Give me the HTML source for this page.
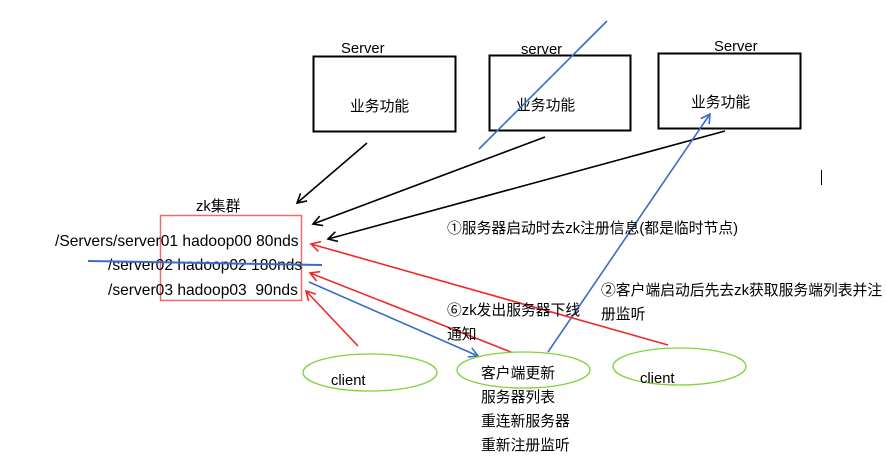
<!DOCTYPE html>
<html><head><meta charset="utf-8"><style>
html,body{margin:0;padding:0;background:#fff;}
svg{display:block;}
text{font-family:"Liberation Sans","Noto Sans CJK SC",sans-serif;font-size:14.8px;fill:#000;white-space:pre;}
</style></head><body>
<svg width="886" height="461" viewBox="0 0 886 461" xmlns="http://www.w3.org/2000/svg">
<defs>
<marker id="ak" markerWidth="12" markerHeight="12" refX="10" refY="6" orient="auto" markerUnits="userSpaceOnUse"><path d="M1,1 L10,6 L1,11" fill="none" stroke="#000" stroke-width="1.6"/></marker>
<marker id="ar" markerWidth="12" markerHeight="12" refX="10" refY="6" orient="auto" markerUnits="userSpaceOnUse"><path d="M1,1 L10,6 L1,11" fill="none" stroke="#f02828" stroke-width="1.6"/></marker>
<marker id="ab" markerWidth="12" markerHeight="12" refX="10" refY="6" orient="auto" markerUnits="userSpaceOnUse"><path d="M1,1 L10,6 L1,11" fill="none" stroke="#3a6cc6" stroke-width="1.6"/></marker>
</defs>
<rect x="313.5" y="56.5" width="142" height="75" fill="none" stroke="#000" stroke-width="2"/>
<rect x="489.5" y="55.5" width="141" height="75" fill="none" stroke="#000" stroke-width="2"/>
<rect x="658.5" y="53.5" width="142" height="75" fill="none" stroke="#000" stroke-width="2"/>
<text x="341" y="53">Server</text>
<text x="521" y="54">server</text>
<text x="714" y="51">Server</text>
<text x="350" y="111">业务功能</text>
<text x="516" y="110">业务功能</text>
<text x="691" y="107">业务功能</text>
<line x1="367" y1="143" x2="297" y2="203" stroke="#000" stroke-width="1.6" marker-end="url(#ak)"/>
<line x1="545" y1="137" x2="313" y2="224" stroke="#000" stroke-width="1.6" marker-end="url(#ak)"/>
<line x1="725" y1="131" x2="328" y2="239" stroke="#000" stroke-width="1.6" marker-end="url(#ak)"/>
<text x="196" y="211">zk集群</text>
<rect x="160.5" y="215.5" width="141" height="85" fill="none" stroke="#f06a6a" stroke-width="1.5"/>
<text x="55" y="246" style="font-size:15.6px">/Servers/server01 hadoop00 80nds</text>
<text x="108" y="270" style="font-size:15.6px">/server02 hadoop02 180nds</text>
<text x="108" y="295" style="font-size:15.6px">/server03 hadoop03  90nds</text>
<line x1="88" y1="261" x2="322" y2="265" stroke="#3a6cc6" stroke-width="2"/>
<line x1="607" y1="21" x2="479" y2="149" stroke="#3a6cc6" stroke-width="1.6"/>
<line x1="548" y1="352" x2="710" y2="114" stroke="#3a6cc6" stroke-width="1.6" marker-end="url(#ab)"/>
<line x1="309" y1="282" x2="478" y2="356" stroke="#3a6cc6" stroke-width="1.6" marker-end="url(#ab)"/>
<line x1="668" y1="345" x2="311" y2="244" stroke="#f02828" stroke-width="1.6" marker-end="url(#ar)"/>
<line x1="511" y1="352" x2="310" y2="273" stroke="#f02828" stroke-width="1.6" marker-end="url(#ar)"/>
<line x1="358" y1="346" x2="306" y2="291" stroke="#f02828" stroke-width="1.6" marker-end="url(#ar)"/>
<ellipse cx="370" cy="372.5" rx="67" ry="18.5" fill="none" stroke="#7ed33a" stroke-width="1.3"/>
<ellipse cx="523.5" cy="370" rx="66.5" ry="18" fill="none" stroke="#7ed33a" stroke-width="1.3"/>
<ellipse cx="679.5" cy="366.5" rx="66.5" ry="18.5" fill="none" stroke="#7ed33a" stroke-width="1.3"/>
<text x="331" y="385">client</text>
<text x="640" y="383">client</text>
<text x="481" y="378">客户端更新</text>
<text x="481" y="402">服务器列表</text>
<text x="481" y="426">重连新服务器</text>
<text x="481" y="450">重新注册监听</text>
<text x="447" y="233">①服务器启动时去zk注册信息(都是临时节点)</text>
<text x="601" y="295">②客户端启动后先去zk获取服务端列表并注</text>
<text x="601" y="319">册监听</text>
<text x="447" y="315">⑥zk发出服务器下线</text>
<text x="447" y="339">通知</text>
<line x1="821.5" y1="170" x2="821.5" y2="185" stroke="#000" stroke-width="1"/>
</svg>
</body></html>
